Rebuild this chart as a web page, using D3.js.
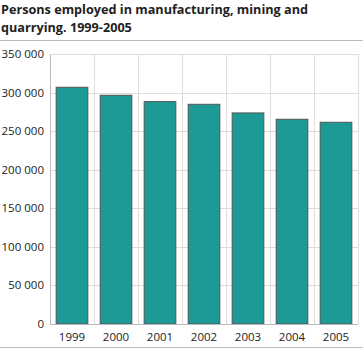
<!DOCTYPE html>
<html>
<head>
<meta charset="utf-8">
<script src="https://cdn.jsdelivr.net/npm/d3@7"></script>
<style>
  body { margin: 0; background: #fff; }
  svg text { font-family: "Open Sans", "DejaVu Sans", sans-serif; fill: #222; }
</style>
</head>
<body>
<div id="chart"></div>
<script>
// years and employed persons
const years = ["1999", "2000", "2001", "2002", "2003", "2004", "2005"];
const employed = [306900, 296500, 288300, 284800, 273600, 265400, 261500];
const yTicks = [0, 50000, 100000, 150000, 200000, 250000, 300000, 350000];

const width = 363, height = 350;
const margin = { top: 54, right: 5, bottom: 26, left: 50 };

const svg = d3.select("#chart")
    .append("svg")
    .attr("width", width)
    .attr("height", height);

// title
const title = svg.append("text")
    .attr("x", 1)
    .attr("y", 14)
    .style("font-size", "13px")
    .style("font-weight", "bold");
const line1 = title.append("tspan").attr("x", 1).text("Persons employed in manufacturing, mining and");
title.append("tspan").attr("x", 1).attr("dy", 18).text("quarrying. 1999-2005");
// shrink the title a little so the first line is as wide as in the original
const w1 = line1.node().getComputedTextLength();
if (w1 > 0) title.style("font-size", (13 * 307 / w1).toFixed(2) + "px");

svg.append("line")
    .attr("x1", 0).attr("x2", width)
    .attr("y1", 40.5).attr("y2", 40.5)
    .attr("stroke", "#bbb");

svg.append("line")
    .attr("x1", 0).attr("x2", width)
    .attr("y1", 347.5).attr("y2", 347.5)
    .attr("stroke", "#bbb");

const x = d3.scaleBand()
    .domain(years)
    .range([margin.left, width - margin.right])
    .paddingInner(0.28)
    .paddingOuter(0.14);

const y = d3.scaleLinear()
    .domain([0, 350000])
    .range([height - margin.bottom, margin.top]);

const fmt = v => d3.format(",")(v).replace(/,/g, "\u00a0");

// horizontal gridlines
svg.append("g")
    .selectAll("line")
    .data(yTicks)
    .enter()
    .append("line")
    .attr("x1", margin.left)
    .attr("x2", width - margin.right)
    .attr("y1", d => Math.round(y(d)) + 0.5)
    .attr("y2", d => Math.round(y(d)) + 0.5)
    .attr("stroke", "#ddd");

// vertical gridlines between categories
const bounds = d3.range(years.length + 1).map(i => margin.left + i * (width - margin.left - margin.right) / years.length);
svg.append("g")
    .selectAll("line")
    .data(bounds)
    .enter()
    .append("line")
    .attr("x1", d => Math.round(d) + 0.5)
    .attr("x2", d => Math.round(d) + 0.5)
    .attr("y1", margin.top)
    .attr("y2", height - margin.bottom)
    .attr("stroke", "#ddd");

// bars
svg.append("g")
    .selectAll("rect")
    .data(employed)
    .enter()
    .append("rect")
    .attr("x", (d, i) => x(years[i]))
    .attr("width", x.bandwidth())
    .attr("y", d => y(d))
    .attr("height", d => y(0) - y(d))
    .attr("fill", "#1e9a96")
    .attr("stroke", "#555")
    .attr("stroke-width", 1);

// y axis labels
svg.append("g")
    .selectAll("text")
    .data(yTicks)
    .enter()
    .append("text")
    .attr("x", margin.left - 6)
    .attr("y", d => y(d) + 4)
    .attr("text-anchor", "end")
    .style("font-size", "11.5px")
    .text(fmt);

// axis lines
svg.append("line")
    .attr("x1", margin.left + 0.5).attr("x2", margin.left + 0.5)
    .attr("y1", margin.top).attr("y2", height - margin.bottom)
    .attr("stroke", "#bbb");
svg.append("line")
    .attr("x1", margin.left).attr("x2", width - margin.right)
    .attr("y1", y(0) + 0.5).attr("y2", y(0) + 0.5)
    .attr("stroke", "#bbb");

// x labels
svg.append("g")
    .selectAll("text")
    .data(years)
    .enter()
    .append("text")
    .attr("x", d => x(d) + x.bandwidth() / 2)
    .attr("y", height - margin.bottom + 17)
    .attr("text-anchor", "middle")
    .style("font-size", "11.5px")
    .text(d => d);
</script>
</body>
</html>
